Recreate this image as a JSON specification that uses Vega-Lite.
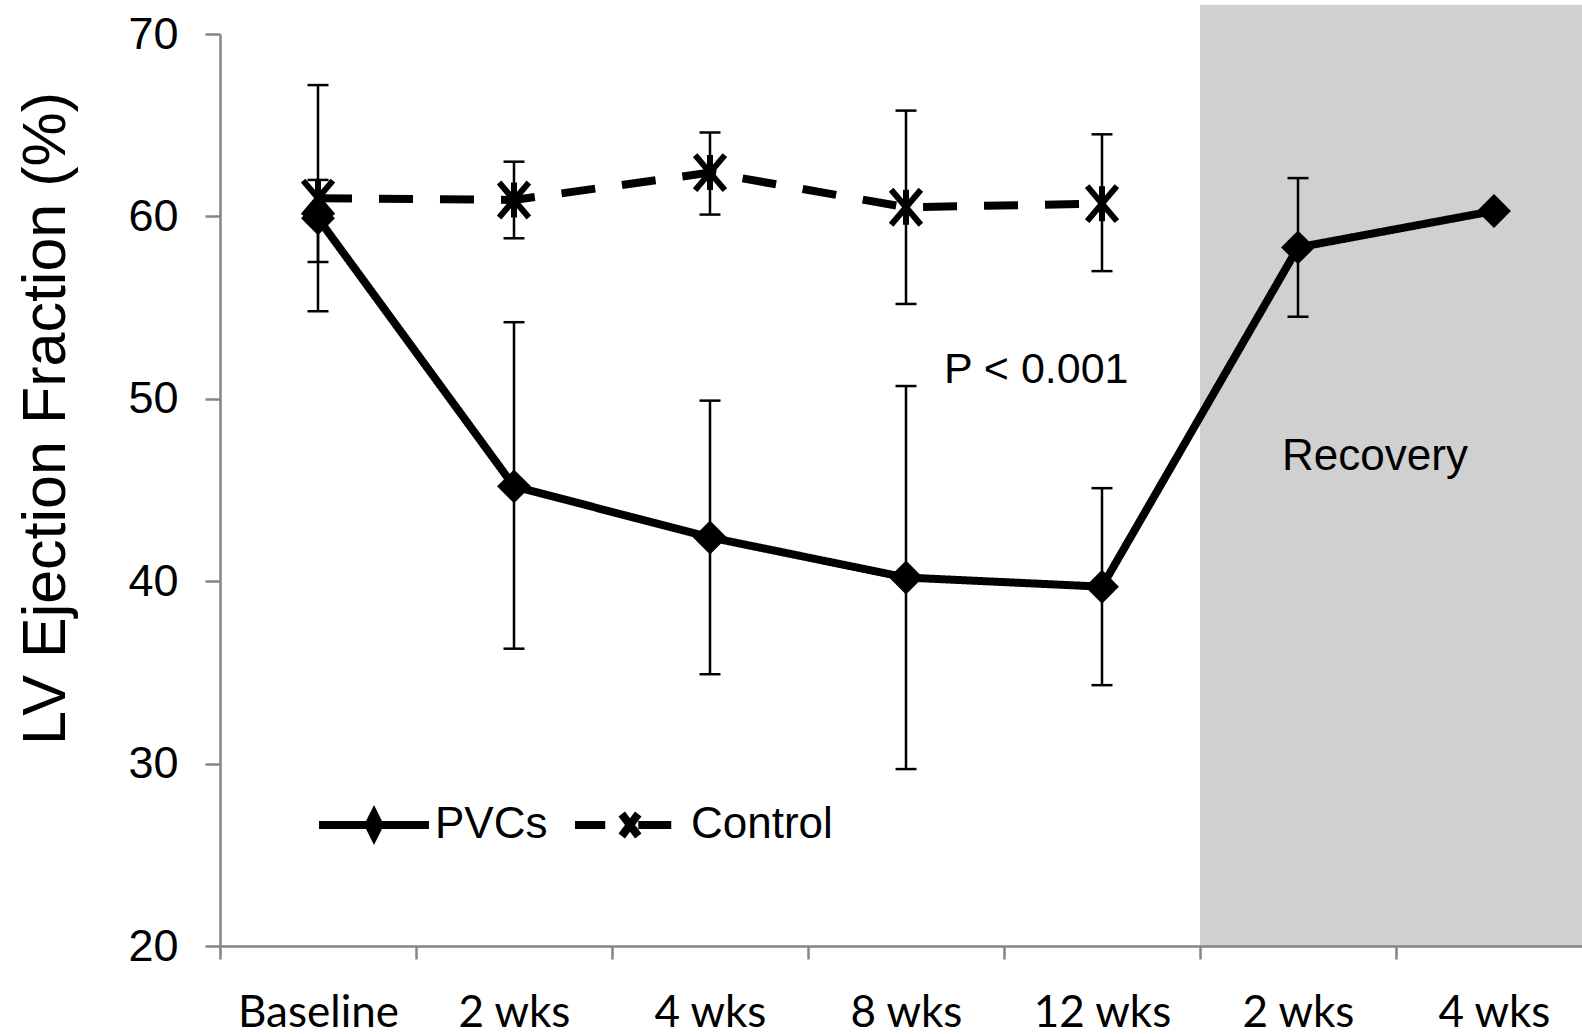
{
  "$schema": "https://vega.github.io/schema/vega-lite/v6.json",
  "width": 1362,
  "height": 912,
  "autosize": {"type": "none"},
  "padding": {"left": 220, "top": 34, "right": 0, "bottom": 88},
  "background": "white",
  "config": {"view": {"stroke": null}, "font": "Liberation Sans"},
  "datasets": {
    "ef": [
      {"group": "PVCs", "period": "Baseline", "week": 0, "ef": 59.9, "lo": 57.5, "hi": 62.0},
      {"group": "PVCs", "period": "2 wks", "week": 2, "ef": 45.2, "lo": 36.3, "hi": 54.2},
      {"group": "PVCs", "period": "4 wks", "week": 4, "ef": 42.4, "lo": 34.9, "hi": 49.9},
      {"group": "PVCs", "period": "8 wks", "week": 8, "ef": 40.2, "lo": 29.7, "hi": 50.7},
      {"group": "PVCs", "period": "12 wks", "week": 12, "ef": 39.7, "lo": 34.3, "hi": 45.1},
      {"group": "PVCs", "period": "Recovery 2 wks", "week": 14, "ef": 58.3, "lo": 54.5, "hi": 62.1},
      {"group": "PVCs", "period": "Recovery 4 wks", "week": 16, "ef": 60.3, "lo": null, "hi": null},
      {"group": "Control", "period": "Baseline", "week": 0, "ef": 61.0, "lo": 54.8, "hi": 67.2},
      {"group": "Control", "period": "2 wks", "week": 2, "ef": 60.9, "lo": 58.8, "hi": 63.0},
      {"group": "Control", "period": "4 wks", "week": 4, "ef": 62.4, "lo": 60.1, "hi": 64.6},
      {"group": "Control", "period": "8 wks", "week": 8, "ef": 60.5, "lo": 55.2, "hi": 65.8},
      {"group": "Control", "period": "12 wks", "week": 12, "ef": 60.7, "lo": 57.0, "hi": 64.5}
    ]
  },
  "data": {"name": "ef"},
  "encoding": {
    "x": {
      "field": "period",
      "type": "nominal",
      "sort": ["Baseline", "2 wks", "4 wks", "8 wks", "12 wks", "Recovery 2 wks", "Recovery 4 wks"],
      "scale": {
        "type": "band",
        "domain": ["Baseline", "2 wks", "4 wks", "8 wks", "12 wks", "Recovery 2 wks", "Recovery 4 wks"],
        "range": [0, 1372],
        "paddingInner": 0,
        "paddingOuter": 0
      },
      "axis": {
        "title": null,
        "labelExpr": "isString(datum.value) ? replace(datum.value, 'Recovery ', '') : ''",
        "tickBand": "extent",
        "grid": false,
        "domainColor": "#858585",
        "domainWidth": 2.5,
        "tickColor": "#858585",
        "tickWidth": 2.5,
        "tickSize": 13,
        "labelFont": "Lato",
        "labelFontSize": 44,
        "labelColor": "black",
        "labelPadding": 32,
        "labelAngle": 0,
        "zindex": 1
      }
    },
    "y": {
      "field": "ef",
      "type": "quantitative",
      "scale": {"domain": [20, 70], "nice": false, "zero": false},
      "axis": {
        "title": "LV Ejection Fraction (%)",
        "values": [20, 30, 40, 50, 60, 70],
        "grid": false,
        "domainColor": "#858585",
        "domainWidth": 2.5,
        "tickColor": "#858585",
        "tickWidth": 2.5,
        "tickSize": 15,
        "labelFont": "Liberation Sans",
        "labelFontSize": 45,
        "labelColor": "black",
        "labelPadding": 27,
        "titleFont": "Liberation Sans",
        "titleFontSize": 61,
        "titleFontWeight": "normal",
        "titleColor": "black",
        "titleAngle": -90,
        "titleAlign": "center",
        "titleBaseline": "middle",
        "titleX": -174,
        "titleY": 384,
        "zindex": 1
      }
    }
  },
  "layer": [
    {
      "data": {"values": [{"period": "Recovery 2 wks", "from": 20, "to": 71.6}, {"period": "Recovery 4 wks", "from": 20, "to": 71.6}]},
      "mark": {"type": "bar", "color": "#d0d0d0", "opacity": 1},
      "encoding": {
        "y": {"field": "from", "type": "quantitative"},
        "y2": {"field": "to"}
      }
    },
    {
      "mark": {"type": "rule", "color": "black", "strokeWidth": 2.5},
      "encoding": {
        "y": {"field": "lo", "type": "quantitative"},
        "y2": {"field": "hi"}
      }
    },
    {
      "mark": {"type": "tick", "color": "black", "size": 21, "thickness": 2.5, "opacity": 1},
      "encoding": {"y": {"field": "lo", "type": "quantitative"}}
    },
    {
      "mark": {"type": "tick", "color": "black", "size": 21, "thickness": 2.5, "opacity": 1},
      "encoding": {"y": {"field": "hi", "type": "quantitative"}}
    },
    {
      "mark": {"type": "line", "color": "black", "strokeWidth": 8, "strokeCap": "butt"},
      "encoding": {
        "order": {"field": "week", "type": "quantitative"},
        "strokeDash": {
          "field": "group",
          "type": "nominal",
          "scale": {"domain": ["PVCs", "Control"], "range": [[1, 0], [34, 27]]},
          "legend": {
            "title": null,
            "orient": "none",
            "legendX": 95,
            "legendY": 732,
            "direction": "horizontal",
            "padding": 0,
            "columnPadding": 11,
            "symbolSize": 12100,
            "symbolType": {"expr": "datum.value === 'PVCs' ? 'M-1,0L1,0M0,-0.2L0.1,0L0,0.2L-0.1,0Z' : 'M-1,0L-0.45,0M-0.15,-0.2L0.15,0.2M-0.15,0.2L0.15,-0.2M0.15,0L0.75,0'"},
            "symbolFillColor": "black",
            "symbolStrokeColor": "black",
            "symbolStrokeWidth": 8,
            "symbolOpacity": 1,
            "labelFont": "Liberation Sans",
            "labelFontSize": 44,
            "labelColor": "black",
            "labelOffset": 2
          }
        }
      }
    },
    {
      "transform": [{"filter": "datum.group === 'PVCs'"}],
      "mark": {"type": "point", "shape": "diamond", "filled": true, "color": "black", "size": 1150, "opacity": 1}
    },
    {
      "transform": [{"filter": "datum.group === 'Control'"}],
      "mark": {
        "type": "point",
        "shape": "M-0.85,-1L0.85,1M-0.85,1L0.85,-1M0,-1L0,1",
        "filled": false,
        "stroke": "black",
        "strokeWidth": 6,
        "size": 1225,
        "opacity": 1
      }
    },
    {
      "data": {"values": [{"period": "8 wks", "ef": 51.6, "note": "P < 0.001"}]},
      "mark": {"type": "text", "align": "left", "baseline": "middle", "dx": 38, "font": "Liberation Sans", "fontSize": 43, "color": "black"},
      "encoding": {"text": {"field": "note"}}
    },
    {
      "data": {"values": [{"period": "Recovery 2 wks", "ef": 46.8, "note": "Recovery"}]},
      "mark": {"type": "text", "align": "center", "baseline": "middle", "dx": 77, "font": "Liberation Sans", "fontSize": 44, "color": "black"},
      "encoding": {"text": {"field": "note"}}
    }
  ]
}
